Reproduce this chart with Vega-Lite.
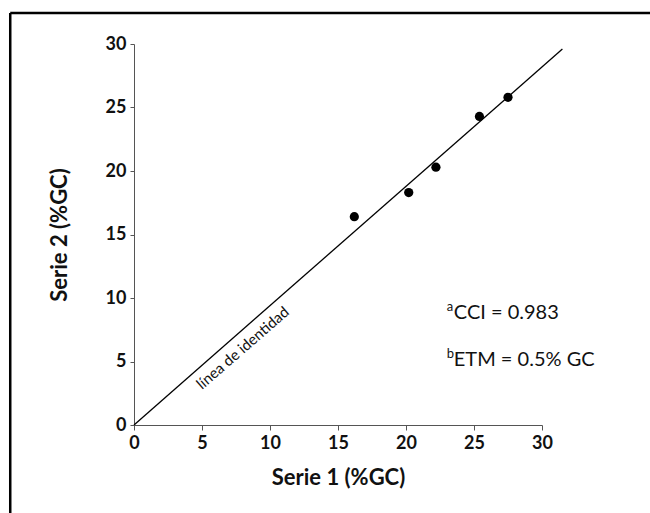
{
  "$schema": "https://vega.github.io/schema/vega-lite/v6.json",
  "width": 408,
  "height": 381,
  "autosize": "none",
  "padding": {"left": 134, "top": 44, "right": 108, "bottom": 88},
  "background": "white",
  "config": {
    "view": {"stroke": null},
    "font": "Lato",
    "axis": {
      "domainColor": "#555555",
      "tickColor": "#555555",
      "grid": false,
      "labelFont": "Lato",
      "labelFontWeight": "bold",
      "labelColor": "#111111",
      "titleFont": "Lato",
      "titleFontWeight": "bold",
      "titleColor": "#111111"
    }
  },
  "datasets": {
    "points": [
      {"serie1": 16.2, "serie2": 16.4},
      {"serie1": 20.2, "serie2": 18.3},
      {"serie1": 22.2, "serie2": 20.3},
      {"serie1": 25.4, "serie2": 24.3},
      {"serie1": 27.5, "serie2": 25.8}
    ],
    "identity": [
      {"serie1": 0, "serie2": 0},
      {"serie1": 31.5, "serie2": 29.6}
    ],
    "frame": [
      {"x1": -9.1, "x2": 38, "y1": 32.45, "y2": 32.45},
      {"x1": -9.1, "x2": -9.1, "y1": 32.45, "y2": -7}
    ],
    "sup": [
      {"serie1": 23.0, "serie2": 8.8, "t": "a"},
      {"serie1": 23.0, "serie2": 5.1, "t": "b"}
    ],
    "stats": [
      {"serie1": 23.0, "serie2": 8.8, "t": "CCI = 0.983"},
      {"serie1": 23.0, "serie2": 5.1, "t": "ETM = 0.5% GC"}
    ],
    "idlabel": [
      {"serie1": 8.0, "serie2": 6.06, "t": "línea de identidad"}
    ]
  },
  "layer": [
    {
      "data": {"name": "frame"},
      "mark": {"type": "rule", "color": "black", "strokeWidth": 2.5, "clip": false},
      "encoding": {
        "x": {"field": "x1", "type": "quantitative", "scale": {"domain": [0, 30], "nice": false}},
        "x2": {"field": "x2"},
        "y": {"field": "y1", "type": "quantitative", "scale": {"domain": [0, 30], "nice": false}},
        "y2": {"field": "y2"}
      }
    },
    {
      "data": {"name": "identity"},
      "mark": {"type": "line", "color": "black", "strokeWidth": 1.3},
      "encoding": {
        "x": {
          "field": "serie1", "type": "quantitative",
          "scale": {"domain": [0, 30], "nice": false},
          "axis": {
            "values": [0, 5, 10, 15, 20, 25, 30],
            "title": "Serie 1 (%GC)",
            "labelFontSize": 18,
            "titleFontSize": 22,
            "tickSize": 5,
            "labelPadding": 4,
            "titlePadding": 15,
            "labelFlush": false
          }
        },
        "y": {
          "field": "serie2", "type": "quantitative",
          "scale": {"domain": [0, 30], "nice": false},
          "axis": {
            "values": [0, 5, 10, 15, 20, 25, 30],
            "title": "Serie 2 (%GC)",
            "labelFontSize": 18,
            "titleFontSize": 22,
            "tickSize": 4,
            "labelPadding": 4,
            "titlePadding": 34,
            "labelFlush": false
          }
        }
      }
    },
    {
      "data": {"name": "points"},
      "mark": {"type": "point", "filled": true, "color": "black", "opacity": 1, "size": 85},
      "encoding": {
        "x": {"field": "serie1", "type": "quantitative"},
        "y": {"field": "serie2", "type": "quantitative"}
      }
    },
    {
      "data": {"name": "sup"},
      "mark": {"type": "text", "align": "left", "baseline": "middle", "fontSize": 13, "dy": -6, "color": "#111111"},
      "encoding": {
        "x": {"field": "serie1", "type": "quantitative"},
        "y": {"field": "serie2", "type": "quantitative"},
        "text": {"field": "t"}
      }
    },
    {
      "data": {"name": "stats"},
      "mark": {"type": "text", "align": "left", "baseline": "middle", "fontSize": 20, "dx": 7, "color": "#111111"},
      "encoding": {
        "x": {"field": "serie1", "type": "quantitative"},
        "y": {"field": "serie2", "type": "quantitative"},
        "text": {"field": "t"}
      }
    },
    {
      "data": {"name": "idlabel"},
      "mark": {"type": "text", "align": "center", "baseline": "middle", "fontSize": 15, "angle": -41, "color": "#111111"},
      "encoding": {
        "x": {"field": "serie1", "type": "quantitative"},
        "y": {"field": "serie2", "type": "quantitative"},
        "text": {"field": "t"}
      }
    }
  ]
}
